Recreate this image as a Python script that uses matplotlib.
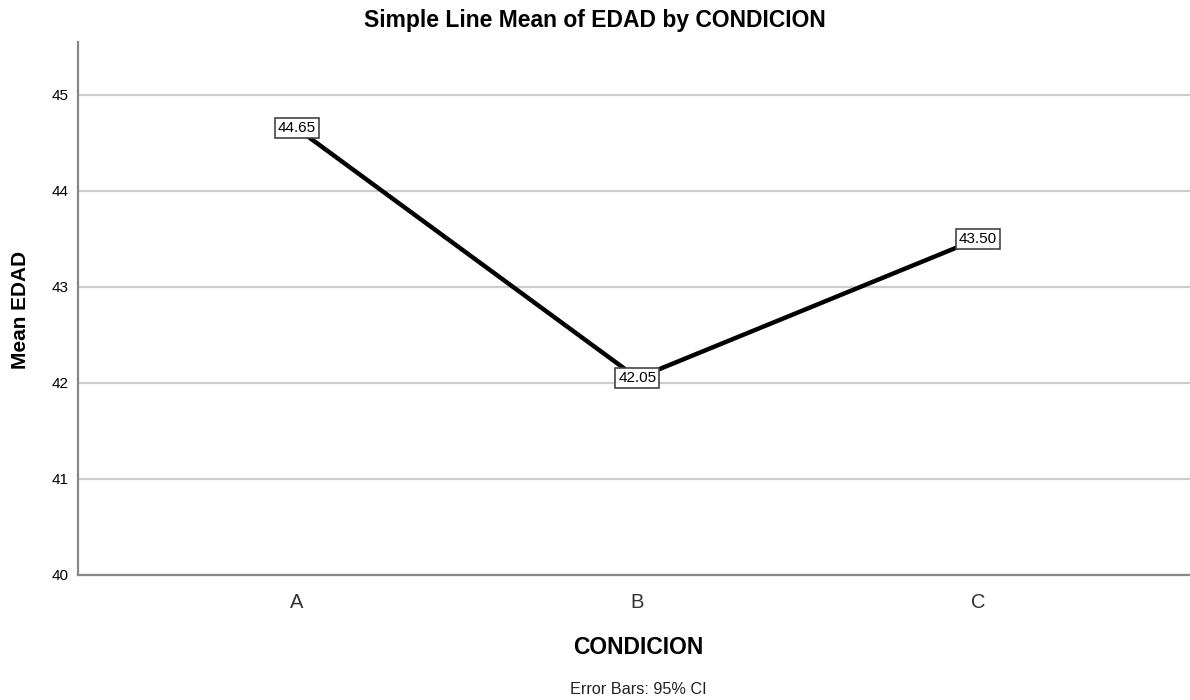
import matplotlib
matplotlib.use("Agg")
import matplotlib.pyplot as plt

plt.rcParams['font.family'] = ['Liberation Sans', 'DejaVu Sans']

# data
condicion = ["A", "B", "C"]
mean_edad = [44.65, 42.05, 43.50]
y_ticks = [40, 41, 42, 43, 44, 45]

fig = plt.figure(figsize=(11.9, 7), dpi=100)
ax = fig.add_axes([0.0655, 0.1786, 0.9345, 0.7614])

x = range(len(condicion))
ax.plot(x, mean_edad, color="black", lw=3.2, solid_capstyle="butt", zorder=3)

# value labels in little boxes
for xi, v in zip(x, mean_edad):
    ax.text(xi, v, f"{v:.2f}", ha="center", va="center", fontsize=11, zorder=4,
            bbox=dict(boxstyle="square,pad=0.2", fc="white", ec="#444444", lw=1.2))

ax.set_xlim(-0.643, 2.623)
ax.set_ylim(40, 45.55)
ax.set_yticks(y_ticks)
ax.set_xticks(list(x))
ax.set_xticklabels(condicion, fontsize=14.5, color="#333333")
ax.tick_params(axis="y", length=0, labelsize=11, pad=7)
ax.tick_params(axis="x", length=0, pad=13)

ax.yaxis.grid(True, color="#cccccc", lw=1.6)
ax.set_axisbelow(True)
for s in ["top", "right"]:
    ax.spines[s].set_visible(False)
for s in ["left", "bottom"]:
    ax.spines[s].set_color("#888888")
    ax.spines[s].set_linewidth(1.6)

fig.text(0.5, 1 - 21 / 700, "Simple Line Mean of EDAD by CONDICION", ha="center", va="center",
         fontsize=16.5, fontweight="bold")
fig.text(0.017, 0.557, "Mean EDAD", rotation=90, ha="center", va="center",
         fontsize=15, fontweight="bold")
fig.text(638 / 1190, 1 - 647 / 700, "CONDICION", ha="center", va="center",
         fontsize=16.5, fontweight="bold")
fig.text(638 / 1190, 1 - 690 / 700, "Error Bars: 95% CI", ha="center", va="center",
         fontsize=11.7, color="#222222")

fig.savefig("out.png", dpi=100)
